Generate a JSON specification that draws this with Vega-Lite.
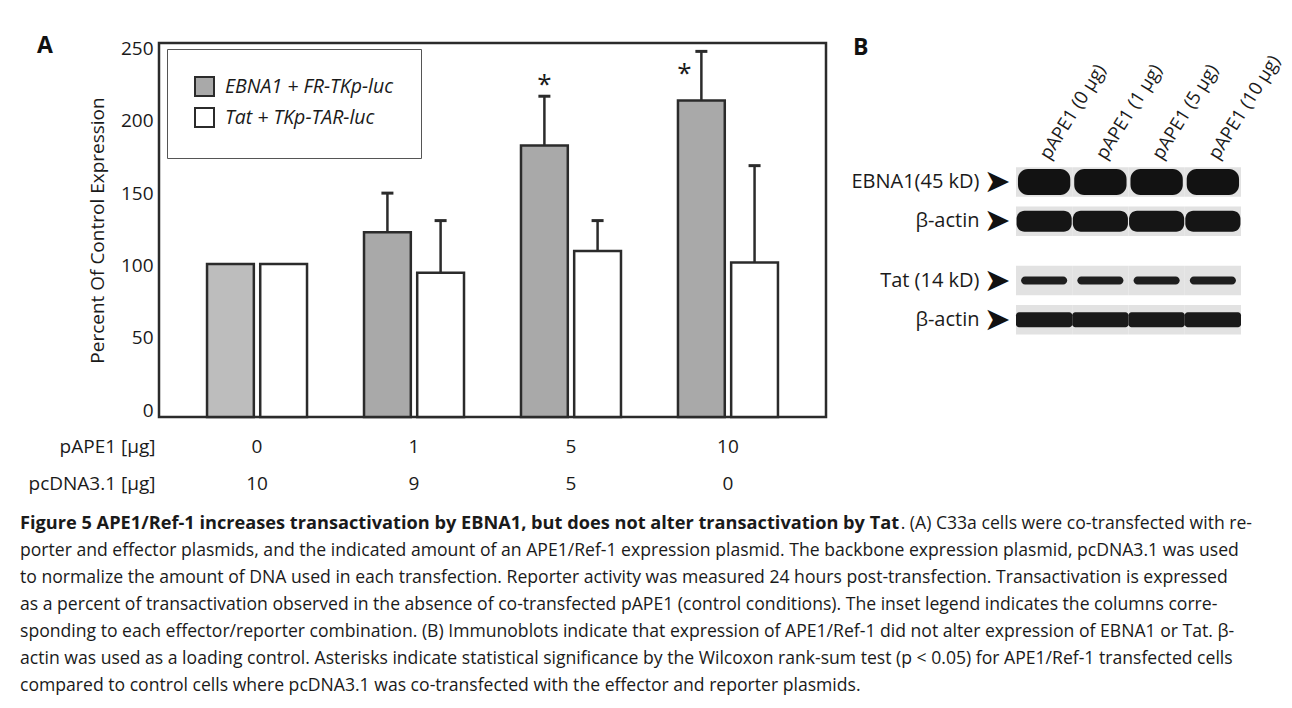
{
  "$schema": "https://vega.github.io/schema/vega-lite/v6.json",
  "background": "white",
  "padding": {"left": 20, "top": 34, "right": 2, "bottom": 2},
  "datasets": {
    "bars": [
      {"pAPE1": "0", "pcDNA": "10", "series": "EBNA1 + FR-TKp-luc", "mean": 101, "upper": null, "sig": null},
      {"pAPE1": "0", "pcDNA": "10", "series": "Tat + TKp-TAR-luc", "mean": 101, "upper": null, "sig": null},
      {"pAPE1": "1", "pcDNA": "9", "series": "EBNA1 + FR-TKp-luc", "mean": 123, "upper": 150, "sig": null},
      {"pAPE1": "1", "pcDNA": "9", "series": "Tat + TKp-TAR-luc", "mean": 95, "upper": 131, "sig": null},
      {"pAPE1": "5", "pcDNA": "5", "series": "EBNA1 + FR-TKp-luc", "mean": 183, "upper": 217, "sig": "*"},
      {"pAPE1": "5", "pcDNA": "5", "series": "Tat + TKp-TAR-luc", "mean": 110, "upper": 131, "sig": null},
      {"pAPE1": "10", "pcDNA": "0", "series": "EBNA1 + FR-TKp-luc", "mean": 214, "upper": 248, "sig": "*"},
      {"pAPE1": "10", "pcDNA": "0", "series": "Tat + TKp-TAR-luc", "mean": 102, "upper": 169, "sig": null}
    ],
    "blot": [
      {"lane": "pAPE1 (0 µg)", "blot": "EBNA1(45 kD)", "protein": "target"},
      {"lane": "pAPE1 (1 µg)", "blot": "EBNA1(45 kD)", "protein": "target"},
      {"lane": "pAPE1 (5 µg)", "blot": "EBNA1(45 kD)", "protein": "target"},
      {"lane": "pAPE1 (10 µg)", "blot": "EBNA1(45 kD)", "protein": "target"},
      {"lane": "pAPE1 (0 µg)", "blot": "EBNA1(45 kD)", "protein": "β-actin"},
      {"lane": "pAPE1 (1 µg)", "blot": "EBNA1(45 kD)", "protein": "β-actin"},
      {"lane": "pAPE1 (5 µg)", "blot": "EBNA1(45 kD)", "protein": "β-actin"},
      {"lane": "pAPE1 (10 µg)", "blot": "EBNA1(45 kD)", "protein": "β-actin"},
      {"lane": "pAPE1 (0 µg)", "blot": "Tat (14 kD)", "protein": "target"},
      {"lane": "pAPE1 (1 µg)", "blot": "Tat (14 kD)", "protein": "target"},
      {"lane": "pAPE1 (5 µg)", "blot": "Tat (14 kD)", "protein": "target"},
      {"lane": "pAPE1 (10 µg)", "blot": "Tat (14 kD)", "protein": "target"},
      {"lane": "pAPE1 (0 µg)", "blot": "Tat (14 kD)", "protein": "β-actin"},
      {"lane": "pAPE1 (1 µg)", "blot": "Tat (14 kD)", "protein": "β-actin"},
      {"lane": "pAPE1 (5 µg)", "blot": "Tat (14 kD)", "protein": "β-actin"},
      {"lane": "pAPE1 (10 µg)", "blot": "Tat (14 kD)", "protein": "β-actin"}
    ],
    "caption": [
      {"line": 1, "part": "heading", "text": "Figure 5 APE1/Ref-1 increases transactivation by EBNA1, but does not alter transactivation by Tat"},
      {"line": 1, "part": "tail", "text": ". (A) C33a cells were co-transfected with re-"},
      {"line": 2, "part": "body", "text": "porter and effector plasmids, and the indicated amount of an APE1/Ref-1 expression plasmid. The backbone expression plasmid, pcDNA3.1 was used"},
      {"line": 3, "part": "body", "text": "to normalize the amount of DNA used in each transfection. Reporter activity was measured 24 hours post-transfection. Transactivation is expressed"},
      {"line": 4, "part": "body", "text": "as a percent of transactivation observed in the absence of co-transfected pAPE1 (control conditions). The inset legend indicates the columns corre-"},
      {"line": 5, "part": "body", "text": "sponding to each effector/reporter combination. (B) Immunoblots indicate that expression of APE1/Ref-1 did not alter expression of EBNA1 or Tat. β-"},
      {"line": 6, "part": "body", "text": "actin was used as a loading control. Asterisks indicate statistical significance by the Wilcoxon rank-sum test (p < 0.05) for APE1/Ref-1 transfected cells"},
      {"line": 7, "part": "body", "text": "compared to control cells where pcDNA3.1 was co-transfected with the effector and reporter plasmids."}
    ]
  },
  "vconcat": [
    {
      "hconcat": [
        {
          "width": 667,
          "height": 374,
          "data": {"name": "bars"},
          "view": {"stroke": "#2b2b2b", "strokeWidth": 2.5},
          "title": {"text": "A", "anchor": "start", "frame": "group", "dx": -122, "dy": 37, "offset": 0, "fontSize": 23, "fontWeight": "bold", "baseline": "alphabetic", "color": "#111111"},
          "encoding": {
            "x": {
              "field": "pAPE1", "type": "nominal", "sort": ["0", "1", "5", "10"],
              "scale": {"paddingInner": 0.363, "paddingOuter": 0.306},
              "axis": {
                "labelAngle": 0, "labelFontSize": 19, "labelBaseline": "alphabetic", "labelPadding": 35, "labelLineHeight": 37,
                "labelExpr": "[datum.label, pluck(data('bars'), 'pcDNA')[indexof(pluck(data('bars'), 'pAPE1'), datum.value)]]",
                "title": ["pAPE1 [µg]", "pcDNA3.1 [µg]"], "titleFontSize": 19, "titleAlign": "right", "titleX": -4, "titleY": 35,
                "titleBaseline": "alphabetic", "titleLineHeight": 37
              }
            },
            "xOffset": {"field": "series", "type": "nominal", "sort": ["EBNA1 + FR-TKp-luc", "Tat + TKp-TAR-luc"], "scale": {"paddingInner": 0.12, "paddingOuter": 0}}
          },
          "layer": [
            {
              "mark": {"type": "bar", "stroke": "#2b2b2b", "strokeWidth": 2.5},
              "encoding": {
                "y": {
                  "field": "mean", "type": "quantitative", "title": "Percent Of Control Expression",
                  "scale": {"domain": [-4.8, 253.8], "nice": false, "zero": false},
                  "axis": {"values": [0, 50, 100, 150, 200, 250], "titleFontSize": 19, "titlePadding": 13, "labelFontSize": 19, "labelPadding": 6}
                },
                "y2": {"datum": -4.8},
                "fill": {
                  "field": "series", "type": "nominal",
                  "condition": {"test": "datum.pAPE1 === '0' && datum.series === 'EBNA1 + FR-TKp-luc'", "value": "#bdbdbd"},
                  "scale": {"domain": ["EBNA1 + FR-TKp-luc", "Tat + TKp-TAR-luc"], "range": ["#a9a9a9", "#ffffff"]},
                  "legend": {
                    "title": null, "orient": "none", "legendX": 8, "legendY": 6, "padding": 27,
                    "strokeColor": "#555555", "fillColor": "#ffffff", "symbolType": "square", "symbolSize": 361,
                    "symbolStrokeColor": "#2b2b2b", "symbolStrokeWidth": 2, "labelFontSize": 19.5, "labelFontStyle": "italic",
                    "labelOffset": 10, "rowPadding": 4, "labelLimit": 0
                  }
                }
              }
            },
            {
              "transform": [{"filter": "isValid(datum.upper)"}],
              "mark": {"type": "rule", "color": "#2b2b2b", "strokeWidth": 2.5},
              "encoding": {
                "y": {"field": "mean", "type": "quantitative", "title": "Percent Of Control Expression"},
                "y2": {"field": "upper"}
              }
            },
            {
              "transform": [{"filter": "isValid(datum.upper)"}],
              "mark": {"type": "tick", "color": "#2b2b2b", "size": 12, "thickness": 3, "opacity": 1},
              "encoding": {
                "y": {"field": "upper", "type": "quantitative", "title": "Percent Of Control Expression"}
              }
            },
            {
              "transform": [{"filter": "datum.sig && datum.pAPE1 === '5'"}],
              "mark": {"type": "text", "fontSize": 26, "baseline": "middle", "dy": -11, "color": "#1a1a1a", "opacity": 1},
              "encoding": {
                "y": {"field": "upper", "type": "quantitative", "title": "Percent Of Control Expression"},
                "text": {"field": "sig"}
              }
            },
            {
              "transform": [{"filter": "datum.sig && datum.pAPE1 === '10'"}],
              "mark": {"type": "text", "fontSize": 26, "baseline": "middle", "dx": -17, "dy": 23, "color": "#1a1a1a", "opacity": 1},
              "encoding": {
                "y": {"field": "upper", "type": "quantitative", "title": "Percent Of Control Expression"},
                "text": {"field": "sig"}
              }
            }
          ]
        },
        {
          "width": 225,
          "height": 374,
          "data": {"name": "blot"},
          "title": {"text": "B", "anchor": "start", "frame": "group", "dx": -163, "dy": 35, "offset": 0, "fontSize": 23, "fontWeight": "bold", "baseline": "alphabetic", "color": "#111111"},
          "encoding": {
            "x": {
              "field": "lane", "type": "nominal", "sort": ["pAPE1 (0 µg)", "pAPE1 (1 µg)", "pAPE1 (5 µg)", "pAPE1 (10 µg)"],
              "scale": {"paddingInner": 0, "paddingOuter": 0},
              "axis": {"orient": "top", "offset": -117, "labelAngle": -58, "labelAlign": "left", "labelBaseline": "middle", "labelFontSize": 18.5, "labelPadding": 3, "title": null}
            },
            "yOffset": {"field": "protein", "type": "nominal", "sort": ["target", "β-actin"], "scale": {"paddingInner": 0.25, "paddingOuter": 0.125}}
          },
          "layer": [
            {
              "mark": {"type": "bar", "color": "#e2e2e2"},
              "encoding": {
                "y": {
                  "field": "blot", "type": "nominal", "sort": ["EBNA1(45 kD)", "Tat (14 kD)"],
                  "scale": {"paddingInner": 0.204, "paddingOuter": 1.0102, "align": 0.606},
                  "axis": {"orient": "left", "labelExpr": "['➤', '➤']", "labelFont": "DejaVu Sans", "labelFontSize": 32, "labelLineHeight": 39, "labelOffset": -19.5, "labelPadding": 6, "labelBaseline": "middle", "labelColor": "#111111", "title": null}
                }
              }
            },
            {
              "encoding": {
                "y": {
                  "field": "blot", "type": "nominal", "sort": ["EBNA1(45 kD)", "Tat (14 kD)"],
                  "axis": {"orient": "left", "offset": 31, "labelExpr": "[datum.label, 'β-actin']", "labelLineHeight": 39, "labelOffset": -19.5, "labelFontSize": 20, "labelPadding": 6, "labelBaseline": "middle", "title": null}
                }
              },
              "layer": [
                {
                  "transform": [{"filter": "datum.blot === 'EBNA1(45 kD)' && datum.protein === 'target'"}],
                  "mark": {"type": "bar", "color": "#121212", "height": 26, "width": {"band": 0.93}, "cornerRadius": 10}
                },
                {
                  "transform": [{"filter": "datum.blot === 'EBNA1(45 kD)' && datum.protein === 'β-actin'"}],
                  "mark": {"type": "bar", "color": "#151515", "height": 21, "width": {"band": 0.98}, "cornerRadius": 8}
                },
                {
                  "transform": [{"filter": "datum.blot === 'Tat (14 kD)' && datum.protein === 'target'"}],
                  "mark": {"type": "bar", "color": "#1e1e1e", "height": 8, "width": {"band": 0.82}, "cornerRadius": 4}
                },
                {
                  "transform": [{"filter": "datum.blot === 'Tat (14 kD)' && datum.protein === 'β-actin'"}],
                  "mark": {"type": "bar", "color": "#1a1a1a", "height": 15, "width": {"band": 1}, "cornerRadius": 3}
                }
              ]
            }
          ],
          "resolve": {"axis": {"y": "independent"}}
        }
      ],
      "spacing": 190,
      "bounds": "flush"
    },
    {
      "width": 1093,
      "height": 162,
      "data": {"name": "caption"},
      "encoding": {
        "y": {"field": "line", "type": "ordinal", "scale": {"type": "point", "padding": 0}, "axis": null},
        "text": {"field": "text"}
      },
      "layer": [
        {
          "transform": [{"filter": "datum.part === 'heading'"}],
          "mark": {"type": "text", "align": "left", "baseline": "middle", "fontSize": 18.2, "fontWeight": "bold", "dx": -139, "color": "#1a1a1a"},
          "encoding": {"x": {"datum": 0, "type": "quantitative", "scale": {"domain": [0, 1]}, "axis": null}}
        },
        {
          "transform": [{"filter": "datum.part === 'tail'"}],
          "mark": {"type": "text", "align": "right", "baseline": "middle", "fontSize": 17.6, "color": "#1a1a1a"},
          "encoding": {"x": {"datum": 1, "type": "quantitative", "axis": null}}
        },
        {
          "transform": [{"filter": "datum.part === 'body'"}],
          "mark": {"type": "text", "align": "left", "baseline": "middle", "fontSize": 17.6, "dx": -139, "color": "#1a1a1a"},
          "encoding": {"x": {"datum": 0, "type": "quantitative", "axis": null}}
        }
      ]
    }
  ],
  "spacing": 481,
  "bounds": "flush",
  "config": {
    "font": "Open Sans",
    "view": {"stroke": null},
    "axis": {"labelFont": "Open Sans", "titleFont": "Open Sans", "labelColor": "#1a1a1a", "titleColor": "#1a1a1a", "titleFontWeight": "normal", "grid": false, "domain": false, "ticks": false},
    "legend": {"labelFont": "Open Sans", "labelColor": "#1a1a1a"},
    "title": {"font": "Open Sans", "color": "#111111"},
    "text": {"font": "Open Sans"}
  }
}
